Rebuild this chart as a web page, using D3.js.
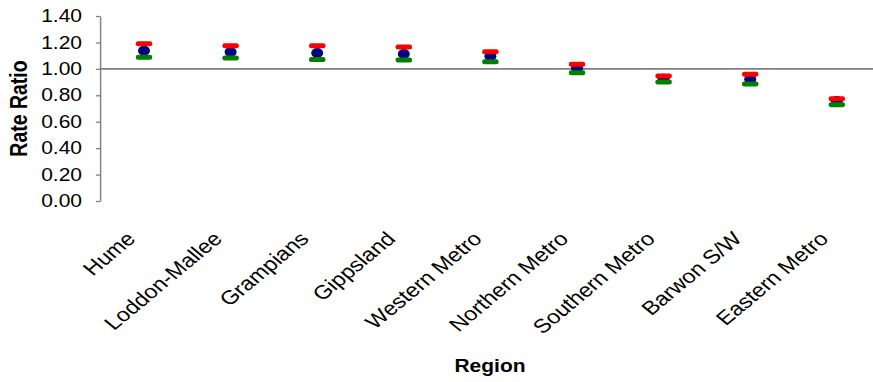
<!DOCTYPE html>
<html>
<head>
<meta charset="utf-8">
<script src="https://cdn.jsdelivr.net/npm/d3@7"></script>
<style>
  html, body { margin: 0; padding: 0; background: #fff; }
  svg { display: block; font-family: Arial, "Liberation Sans", sans-serif; }
</style>
</head>
<body>
<svg id="chart" width="873" height="382"></svg>
<script>
// ---- data ----
const regions = ["Hume", "Loddon-Mallee", "Grampians", "Gippsland", "Western Metro",
                 "Northern Metro", "Southern Metro", "Barwon S/W", "Eastern Metro"];
const rateRatio = [1.137, 1.128, 1.120, 1.112, 1.095, 1.004, 0.925, 0.921, 0.757];
const upperCI   = [1.190, 1.175, 1.175, 1.165, 1.130, 1.034, 0.946, 0.959, 0.774];
const lowerCI   = [1.087, 1.082, 1.070, 1.067, 1.054, 0.971, 0.900, 0.885, 0.729];
const yTicks    = [0, 0.2, 0.4, 0.6, 0.8, 1.0, 1.2, 1.4];
const refValue  = 1.0;

// ---- layout (the original is horizontally stretched; draw in a scaled group) ----
const sx = 1.2;
const svg = d3.select("#chart");
const root = svg.append("g").attr("transform", `scale(${sx},1)`);
const plotLeft = 100 / sx, plotTop = 16, plotBottom = 201;
const bandW = 86.6 / sx;
const bandStart = 144 / sx - bandW / 2;
const x = d3.scaleBand().domain(regions).range([bandStart, bandStart + bandW * regions.length]).padding(0);
const y = d3.scaleLinear().domain([0, 1.4]).range([plotBottom, plotTop]);
const font = "Arial, 'Liberation Sans', sans-serif";

// y axis
const yAxis = d3.axisLeft(y).tickValues(yTicks).tickFormat(d3.format(".2f")).tickSize(3.4).tickSizeOuter(0);
const gy = root.append("g").attr("transform", `translate(${plotLeft},0)`).call(yAxis);
gy.select(".domain").attr("stroke", "#808080").attr("stroke-width", 1.2);
gy.selectAll(".tick line").attr("stroke", "#808080").attr("stroke-width", 1.3);
gy.selectAll(".tick text").attr("font-size", 17.5).attr("fill", "#000").attr("x", -15)
  .attr("font-family", font);

// reference line (category axis crossing at 1.00)
root.append("line")
  .attr("x1", plotLeft).attr("x2", x.range()[1])
  .attr("y1", y(refValue)).attr("y2", y(refValue))
  .attr("stroke", "#808080").attr("stroke-width", 1.8);

// category labels
const xAxis = d3.axisBottom(x).tickSize(0).tickSizeOuter(0);
const gx = root.append("g").attr("transform", `translate(0,${plotBottom})`).call(xAxis);
gx.select(".domain").remove();
gx.selectAll(".tick text")
  .attr("font-size", 19.5).attr("fill", "#000")
  .attr("font-family", font)
  .attr("text-anchor", "end")
  .attr("y", 0).attr("dy", 0)
  .attr("transform", "translate(-6,39) rotate(-45)");

// markers
const g = root.append("g");
g.selectAll("circle.rr").data(regions).join("circle")
  .attr("class", "rr")
  .attr("cx", d => x(d) + x.bandwidth() / 2)
  .attr("cy", (d, i) => y(rateRatio[i]))
  .attr("r", 5)
  .attr("fill", "#000080");
g.selectAll("rect.up").data(regions).join("rect")
  .attr("class", "up")
  .attr("x", d => x(d) + x.bandwidth() / 2 - 6.8)
  .attr("y", (d, i) => y(upperCI[i]) - 2.5)
  .attr("width", 13.6).attr("height", 5).attr("rx", 1.8)
  .attr("fill", "#ff0000");
g.selectAll("rect.lo").data(regions).join("rect")
  .attr("class", "lo")
  .attr("x", d => x(d) + x.bandwidth() / 2 - 6.8)
  .attr("y", (d, i) => y(lowerCI[i]) - 2.5)
  .attr("width", 13.6).attr("height", 5).attr("rx", 1.8)
  .attr("fill", "#008000");

// axis titles
root.append("text")
  .attr("transform", `translate(${27 / sx},${(plotTop + plotBottom) / 2}) rotate(-90)`)
  .attr("text-anchor", "middle")
  .attr("font-family", font)
  .attr("font-size", 19.5).attr("font-weight", "bold")
  .text("Rate Ratio");
root.append("text")
  .attr("x", 490 / sx).attr("y", 372)
  .attr("text-anchor", "middle")
  .attr("font-family", font)
  .attr("font-size", 17.5).attr("font-weight", "bold")
  .text("Region");
</script>
</body>
</html>
